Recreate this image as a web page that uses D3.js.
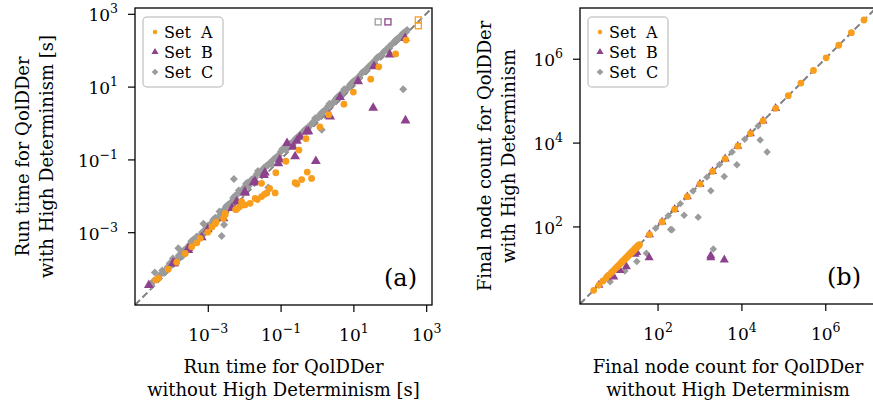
<!DOCTYPE html>
<html>
<head>
<meta charset="utf-8">
<script src="https://cdn.jsdelivr.net/npm/d3@7"></script>
<style>
body { margin: 0; background: #fff; }
text { font-family: "DejaVu Serif", "Liberation Serif", serif; fill: #000; }
</style>
</head>
<body>
<svg id="chart" width="873" height="403" font-family="DejaVu Serif, Liberation Serif, serif"></svg>
<script>
// ---- panel (a): run time [s], [without HD, with HD] ----
const runA = [
  [280, 190], [145, 79], [50, 35], [30, 16], [10, 7.1], [5.5, 3.3], [2.1, 1.7], [1.2, 0.78],
  [0.50, 0.37], [0.32, 0.18], [0.14, 0.089], [0.074, 0.043], [0.030, 0.022],
  [0.25, 0.023], [0.28, 0.021], [0.38, 0.028], [0.54, 0.045], [0.71, 0.030],
  [0.042, 0.012], [0.030, 0.0095], [0.023, 0.0079], [0.0145, 0.0062], [0.0105, 0.0056],
  [0.0062, 0.0043], [0.0085, 0.0069], [0.071, 0.012], [0.0058, 0.0042],
  [0.0030, 0.0033], [0.0027, 0.0024], [0.0030, 0.0030], [0.0017, 0.0019],
  [0.0016, 0.0017], [0.0013, 0.0014], [0.0010, 0.0010], [6.2e-4, 6.8e-4], [5.0e-4, 5.1e-4],
  [3.6e-4, 4.0e-4], [2.4e-4, 2.6e-4], [1.4e-4, 1.5e-4], [8.2e-5, 9.6e-5], [4.4e-5, 5.4e-5],
  [3.7e-5, 4.9e-5], [0.050, 0.016], [0.036, 0.011], [0.020, 0.0085], [0.0075, 0.0050]
];
const runB = [
  [263, 214], [100, 76], [37, 36], [13.5, 14], [4.3, 5.1], [2.1, 1.6], [0.58, 0.59],
  [0.28, 0.32], [0.25, 0.12], [0.095, 0.098], [0.037, 0.043], [0.020, 0.025],
  [35, 2.6], [270, 1.17], [0.93, 0.089],
  [0.087, 0.078], [0.035, 0.037], [0.018, 0.023], [0.0105, 0.013], [0.0046, 0.0046],
  [0.0027, 0.0024], [0.0010, 0.0012], [6.8e-4, 7.2e-4], [2.9e-4, 3.2e-4], [1.2e-4, 1.4e-4],
  [2.4e-5, 3.5e-5], [0.22, 0.22], [0.15, 0.28], [0.52, 0.58], [0.34, 0.42],
  [0.0105, 0.012], [0.0062, 0.0069], [2.9e-4, 3.6e-4], [1.1e-4, 1.4e-4], [2.3, 1.5]
];
const runC = [
  [2.8e-5, 3.5e-5], [4.0e-5, 5.2e-5], [3.5e-5, 7.8e-5], [6.3e-5, 7.6e-5], [7.9e-5, 1.1e-4],
  [1.0e-4, 1.26e-4], [1.1e-4, 1.9e-4], [1.4e-4, 1.8e-4], [1.8e-4, 2.6e-4], [2.0e-4, 2.2e-4],
  [1.55e-4, 3.6e-4], [2.8e-4, 4.0e-4], [3.5e-4, 5.6e-4], [4.2e-4, 5.2e-4], [5.0e-4, 7.6e-4],
  [6.3e-4, 8.3e-4], [7.6e-4, 1.7e-3], [8.9e-4, 1.26e-3], [1.12e-3, 1.41e-3], [1.41e-3, 2.2e-3],
  [1.8e-3, 2.3e-3], [2.1e-3, 3.7e-3], [2.5e-3, 3.5e-3], [3.2e-3, 5.2e-3], [2.4e-3, 7.9e-4],
  [2.8e-3, 1.6e-3], [4.0e-3, 6.0e-3], [5.0e-3, 8.9e-3], [6.0e-3, 7.9e-3], [7.1e-3, 1.4e-2],
  [5.2e-3, 2.9e-2], [8.9e-3, 1.41e-2], [1.12e-2, 2.1e-2], [1.3e-2, 1.8e-2], [1.6e-2, 2.8e-2],
  [2.0e-2, 3.2e-2], [2.4e-2, 4.8e-2], [2.8e-2, 4.0e-2], [3.5e-2, 5.9e-2], [4.6e-2, 1.7e-2],
  [4.5e-2, 6.8e-2], [5.6e-2, 7.4e-2], [7.1e-2, 0.11], [8.9e-2, 0.126], [0.11, 0.19],
  [0.14, 0.18], [0.18, 0.27], [0.22, 0.30], [0.28, 0.40], [0.35, 0.42], [0.45, 0.63],
  [0.56, 0.71], [0.71, 0.94], [1.35, 0.65], [0.89, 1.35], [1.12, 1.41], [1.41, 2.0],
  [1.8, 2.4], [2.2, 3.4], [2.8, 3.5], [3.5, 5.0], [4.5, 5.9], [5.6, 8.5], [7.1, 8.9],
  [8.9, 12.6], [11.2, 14.8], [14.1, 17], [17.8, 25], [22, 28], [28, 37], [35, 42], [45, 63],
  [56, 71], [71, 93], [89, 107], [112, 141], [141, 186], [178, 214], [224, 282], [282, 316],
  [234, 8.5],
  [3.2e-5, 4.5e-5], [4.8e-5, 6.6e-5], [5.6e-5, 8.9e-5], [7.0e-5, 9.0e-5], [9.0e-5, 1.4e-4],
  [1.25e-4, 1.6e-4], [1.6e-4, 2.3e-4], [2.2e-4, 3.2e-4], [3.2e-4, 4.6e-4], [4.0e-4, 6.3e-4],
  [5.6e-4, 7.0e-4], [7.0e-4, 1.0e-3], [1.0e-3, 1.5e-3], [1.26e-3, 1.8e-3], [1.6e-3, 2.5e-3],
  [2.2e-3, 3.0e-3], [2.8e-3, 4.2e-3], [3.5e-3, 5.6e-3], [4.5e-3, 7.0e-3], [5.6e-3, 1.0e-2],
  [6.6e-3, 1.1e-2], [8.0e-3, 1.3e-2], [1.0e-2, 1.7e-2], [1.2e-2, 2.3e-2], [1.45e-2, 2.4e-2],
  [1.8e-2, 3.0e-2], [2.2e-2, 3.9e-2], [2.6e-2, 4.4e-2], [3.2e-2, 5.2e-2], [4.0e-2, 6.6e-2],
  [5.0e-2, 8.0e-2], [6.3e-2, 0.10], [8.0e-2, 0.12], [0.10, 0.16], [0.126, 0.20], [0.16, 0.24],
  [0.20, 0.28], [0.25, 0.36], [0.32, 0.45], [0.40, 0.56], [0.50, 0.70], [0.63, 0.85],
  [0.80, 1.1], [1.0, 1.4], [1.26, 1.8], [1.6, 2.2], [2.0, 2.9], [2.5, 3.4], [3.2, 4.4],
  [4.0, 5.6], [5.0, 7.0], [6.3, 8.5], [8.0, 11], [10, 14], [12.6, 17], [16, 22], [20, 27],
  [25, 34], [32, 43], [40, 54], [50, 66], [63, 83], [80, 105], [100, 130], [126, 160],
  [160, 205], [200, 250], [250, 310], [300, 360]
];
// runs that hit the time limit (hollow squares)
const runTimeouts = [
  { set: "C", x: 48, y: 600 },
  { set: "B", x: 89, y: 600 },
  { set: "A", x: 610, y: 680 },
  { set: "A", x: 610, y: 470 }
];

// ---- panel (b): final node count, [without HD, with HD] ----
const nodeA = [
  [3, 3], [4, 4], [5, 5], [6, 6], [7, 7], [8, 8], [9, 9], [10, 10], [11, 11], [12, 12],
  [13, 13], [14, 14], [15, 15], [16, 16], [17, 17], [18, 18], [19, 19], [20, 20], [21, 21],
  [22, 22], [23, 23], [24, 24], [25, 25], [26, 26], [27, 27], [28, 28], [29, 29], [30, 30],
  [31, 31], [32, 32], [33, 33], [34, 34], [35, 35], [36, 36], [37, 37],
  [64, 64], [128, 128], [256, 256], [512, 512], [1024, 1024], [2048, 2048], [4096, 4096],
  [8192, 8192], [16384, 16384], [32768, 32768], [65536, 65536], [131072, 131072],
  [262144, 262144], [524288, 524288], [1048576, 1048576], [2097152, 2097152],
  [4194304, 4194304], [8388608, 8388608]
];
const nodeB = [
  [4, 4], [6, 6], [9, 6.3], [12.6, 8.9], [18, 11], [29, 22], [32, 24], [63, 18],
  [1860, 18], [1860, 20], [3900, 16],
  [64, 64], [128, 128], [256, 256], [512, 512], [1024, 1024], [2048, 2048], [4096, 4096],
  [8192, 8192], [16384, 16384], [32768, 32768], [65536, 65536]
];
const nodeC = [
  [28000, 11500], [41000, 6000], [7800, 2950], [3900, 1550], [1860, 710], [930, 166],
  [430, 186], [220, 83], [205, 85], [2140, 29], [54, 23], [32, 14.5], [16.6, 8.7], [7.4, 4.8],
  [4, 4], [6, 6], [8, 8], [12, 12], [20, 20], [30, 30], [90, 90], [180, 180], [350, 350],
  [700, 700], [1500, 1500], [3000, 3000], [6000, 6000], [12000, 12000], [25000, 25000]
];

const runTicks = [1e-3, 1e-1, 1e1, 1e3];
const nodeTicks = [1e2, 1e4, 1e6];
const setNames = ["Set A", "Set B", "Set C"];

const colors = { A: "#f99d1c", B: "#8c428c", C: "#9b9b9b" };

const svg = d3.select("#chart");

function powLabel(sel, v) {
  const e = Math.round(Math.log10(v));
  sel.text("");
  sel.append("tspan").text("10");
  sel.append("tspan").attr("dy", -8).attr("font-size", 12.5)
    .text(e < 0 ? "\u2212" + (-e) : e);
}

function marker(type, size) {
  if (type === "A") return d3.symbol(d3.symbolCircle, size)();
  if (type === "B") return d3.symbol(d3.symbolTriangle, size)();
  return d3.symbol(d3.symbolSquare, size)();
}

function drawPanel(p) {
  const x = d3.scaleLog().domain(p.domain).range([p.left, p.left + p.size]);
  const y = d3.scaleLog().domain(p.domain).range([p.top + p.size, p.top]);
  const g = svg.append("g");

  svg.append("clipPath").attr("id", "clip-" + p.name)
    .append("rect").attr("x", p.left).attr("y", p.top)
    .attr("width", p.size).attr("height", p.size);

  const plot = g.append("g").attr("clip-path", "url(#clip-" + p.name + ")");

  // y = x reference line
  plot.append("line")
    .attr("x1", x(p.domain[0])).attr("y1", y(p.domain[0]))
    .attr("x2", x(p.domain[1])).attr("y2", y(p.domain[1]))
    .attr("stroke", "#808080").attr("stroke-width", 2)
    .attr("stroke-dasharray", "7,3.5");

  // draw C first, then B, then A on top
  const sets = [["C", p.c], ["B", p.b], ["A", p.a]];
  sets.forEach(([key, data]) => {
    plot.selectAll(null).data(data).enter().append("path")
      .attr("d", marker(key, p.sizes[key]))
      .attr("transform", d => "translate(" + x(d[0]) + "," + y(d[1]) + ")" + (key === "C" ? " rotate(45)" : ""))
      .attr("fill", colors[key]);
  });

  if (p.timeouts) {
    plot.selectAll(null).data(p.timeouts).enter().append("rect")
      .attr("x", d => x(d.x) - 3).attr("y", d => y(d.y) - 3)
      .attr("width", 6).attr("height", 6)
      .attr("fill", "none").attr("stroke", d => colors[d.set]).attr("stroke-width", 1.3);
  }

  // axes
  const gx = g.append("g").attr("transform", "translate(0," + (p.top + p.size) + ")")
    .call(d3.axisBottom(x).tickValues(p.ticks).tickSize(7).tickFormat(""));
  gx.select(".domain").remove();
  gx.selectAll(".tick line").attr("stroke", "#000").attr("stroke-width", 1.2);
  gx.selectAll(".tick").append("text")
    .attr("y", 36).attr("text-anchor", "middle").attr("font-size", 17)
    .each(function(d) { powLabel(d3.select(this), d); });

  const gy = g.append("g").attr("transform", "translate(" + p.left + ",0)")
    .call(d3.axisLeft(y).tickValues(p.ticks).tickSize(7).tickFormat(""));
  gy.select(".domain").remove();
  gy.selectAll(".tick line").attr("stroke", "#000").attr("stroke-width", 1.2);
  gy.selectAll(".tick").append("text")
    .attr("x", -17).attr("y", 7).attr("text-anchor", "end").attr("font-size", 17)
    .each(function(d) { powLabel(d3.select(this), d); });

  // frame
  g.append("rect").attr("x", p.left).attr("y", p.top)
    .attr("width", p.size).attr("height", p.size)
    .attr("fill", "none").attr("stroke", "#000").attr("stroke-width", 1.3);

  // legend
  const lg = g.append("g").attr("transform", "translate(" + (p.left + 8) + "," + (p.top + 9) + ")");
  lg.append("rect").attr("width", 80).attr("height", 70).attr("rx", 4)
    .attr("fill", "#fff").attr("fill-opacity", 0.8)
    .attr("stroke", "#cccccc").attr("stroke-width", 1.5);
  ["A", "B", "C"].forEach((key, i) => {
    const cy = 15 + i * 20;
    lg.append("path").attr("d", marker(key, key === "A" ? 16 : 22))
      .attr("transform", "translate(12," + cy + ")" + (key === "C" ? " rotate(45)" : ""))
      .attr("fill", colors[key]);
    lg.append("text").attr("x", 21).attr("y", cy + 6).attr("font-size", 16)
      .attr("word-spacing", 5).text(setNames[i]);
  });

  // panel tag
  g.append("text").attr("x", p.left + p.size - 15).attr("y", p.top + p.size - 19)
    .attr("text-anchor", "end").attr("font-size", 24).text(p.tag);

  // axis titles
  const cx = p.left + p.size / 2;
  const xl = g.append("text").attr("text-anchor", "middle").attr("font-size", 18);
  xl.append("tspan").attr("x", cx).attr("y", 373).text(p.xlabel[0]);
  xl.append("tspan").attr("x", cx).attr("y", 396).text(p.xlabel[1]);

  const cyc = p.top + p.size / 2;
  const yl = g.append("text").attr("text-anchor", "middle").attr("font-size", 18)
    .attr("transform", "translate(" + p.ylabelX + "," + cyc + ") rotate(-90)");
  yl.append("tspan").attr("x", 0).attr("y", 0).text(p.ylabel[0]);
  yl.append("tspan").attr("x", 0).attr("y", 24).text(p.ylabel[1]);
}

drawPanel({
  name: "a", left: 135, top: 8, size: 297, ylabelX: 29,
  domain: [1e-5, Math.pow(10, 3.16)],
  ticks: runTicks,
  a: runA, b: runB, c: runC, timeouts: runTimeouts,
  sizes: { A: 36, B: 42, C: 32 },
  tag: "(a)",
  xlabel: ["Run time for QolDDer", "without High Determinism [s]"],
  ylabel: ["Run time for QolDDer", "with High Determinism [s]"]
});

drawPanel({
  name: "b", left: 580, top: 8, size: 296, ylabelX: 491,
  domain: [Math.pow(10, 0.15), Math.pow(10, 7.21)],
  ticks: nodeTicks,
  a: nodeA, b: nodeB, c: nodeC,
  sizes: { A: 36, B: 36, C: 28 },
  tag: "(b)",
  xlabel: ["Final node count for QolDDer", "without High Determinism"],
  ylabel: ["Final node count for QolDDer", "with High Determinism"]
});
</script>
</body>
</html>
